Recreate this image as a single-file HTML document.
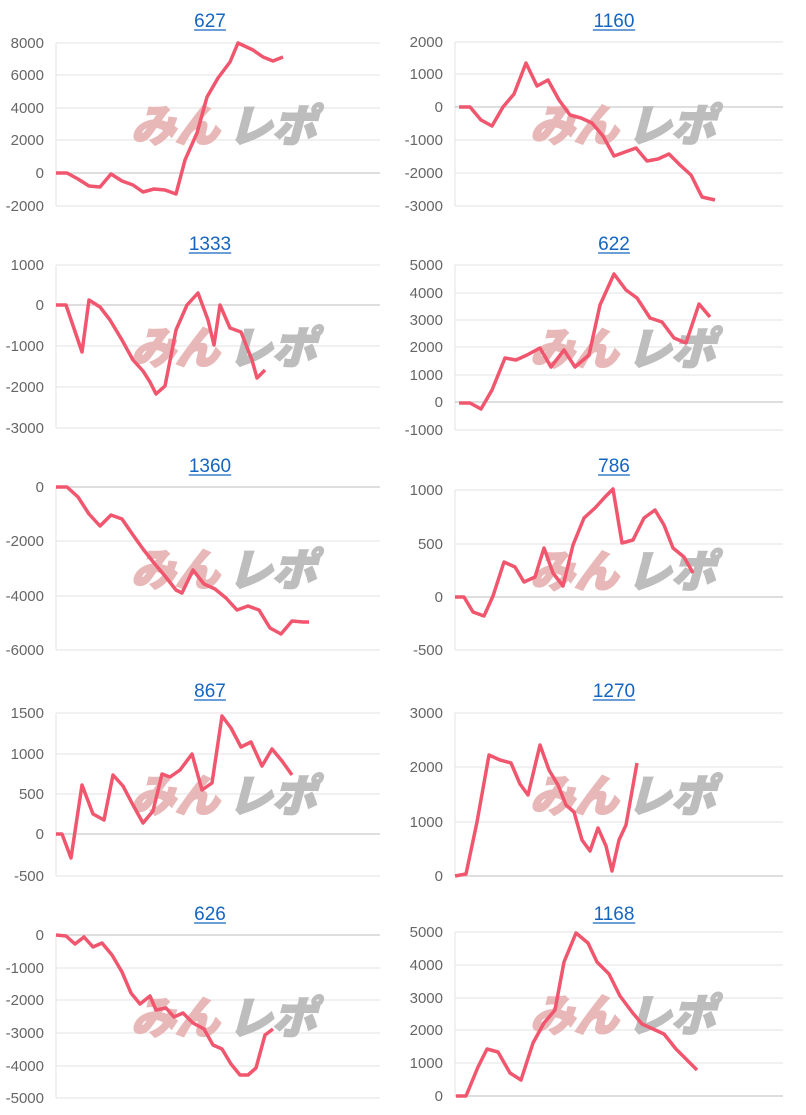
<!DOCTYPE html>
<html><head><meta charset="utf-8"><style>
body{margin:0;background:#fff;width:806px;height:1115px;overflow:hidden}
svg{display:block}
</style></head><body>
<svg id="s" width="806" height="1115" xmlns="http://www.w3.org/2000/svg" font-family="Liberation Sans, sans-serif"></svg>
<script>
const C=[
{t:"627",tx:210,ty:20,L:56,R:380,z:173,ticks:[["8000",43],["6000",75],["4000",108],["2000",140],["0",173],["-2000",206]],
p:[[56,173],[67,173],[78,179],[89,186],[100,187],[111,174],[122,181],[133,185],[143,192],[154,189],[165,190],[176,194],[185,160],[197,133],[207,97],[218,78],[230,62],[238,43],[253,50],[263,57],[273,61],[283,57]]},
{t:"1160",tx:614,ty:20,L:455,R:783,z:107,ticks:[["2000",42],["1000",74],["0",107],["-1000",140],["-2000",173],["-3000",206]],
p:[[459,107],[470,107],[481,120],[492,126],[503,107],[514,94],[526,63],[537,86],[548,80],[559,100],[570,115],[581,118],[592,123],[603,136],[614,156],[625,152],[636,148],[647,161],[658,159],[669,154],[680,165],[691,175],[702,197],[715,200]]},
{t:"1333",tx:210,ty:243,L:56,R:380,z:305,ticks:[["1000",265],["0",305],["-1000",346],["-2000",387],["-3000",428]],
p:[[56,305],[66,305],[82,352],[89,300],[100,307],[110,320],[122,340],[133,360],[143,371],[150,382],[156,394],[165,386],[176,330],[187,305],[198,293],[208,320],[214,345],[220,305],[230,328],[241,332],[252,360],[257,378],[265,370]]},
{t:"622",tx:614,ty:243,L:455,R:783,z:402,ticks:[["5000",265],["4000",293],["3000",320],["2000",347],["1000",375],["0",402],["-1000",430]],
p:[[459,403],[470,403],[481,409],[492,390],[505,358],[516,360],[527,355],[540,348],[551,367],[564,350],[575,367],[589,355],[600,305],[614,274],[626,290],[637,298],[650,318],[662,322],[674,338],[686,343],[699,304],[710,317]]},
{t:"1360",tx:210,ty:465,L:56,R:380,z:487,ticks:[["0",487],["-2000",541],["-4000",596],["-6000",650]],
p:[[56,487],[67,487],[78,497],[89,514],[100,526],[111,515],[122,519],[133,535],[143,549],[154,563],[165,576],[176,590],[182,593],[193,570],[204,584],[215,589],[226,598],[237,610],[248,606],[259,610],[270,628],[281,634],[292,621],[303,622],[309,622]]},
{t:"786",tx:614,ty:465,L:455,R:783,z:597,ticks:[["1000",490],["500",544],["0",597],["-500",650]],
p:[[455,597],[464,597],[473,612],[484,616],[493,596],[504,562],[515,567],[524,582],[535,577],[544,548],[553,573],[563,586],[573,545],[584,518],[595,508],[605,497],[613,489],[622,543],[633,540],[644,518],[655,510],[664,525],[673,548],[684,557],[693,573]]},
{t:"867",tx:210,ty:690,L:56,R:380,z:834,ticks:[["1500",713],["1000",754],["500",794],["0",834],["-500",876]],
p:[[56,834],[62,834],[71,858],[82,785],[93,814],[104,820],[113,775],[123,786],[133,805],[143,823],[153,811],[162,774],[170,777],[180,770],[192,754],[202,790],[212,783],[222,716],[231,728],[241,747],[251,742],[262,766],[272,749],[282,761],[292,775]]},
{t:"1270",tx:614,ty:690,L:455,R:783,z:876,ticks:[["3000",713],["2000",767],["1000",822],["0",876]],
p:[[455,876],[466,874],[477,822],[489,755],[500,760],[511,763],[520,784],[528,795],[540,745],[549,770],[558,785],[566,805],[574,812],[582,840],[590,851],[598,828],[606,846],[612,871],[619,840],[626,825],[637,763]]},
{t:"626",tx:210,ty:913,L:56,R:380,z:935,ticks:[["0",935],["-1000",968],["-2000",1000],["-3000",1033],["-4000",1066],["-5000",1098]],
p:[[56,935],[66,936],[75,944],[84,937],[93,947],[102,943],[112,955],[122,972],[131,993],[140,1004],[150,996],[156,1010],[166,1008],[174,1017],[183,1013],[193,1023],[204,1029],[213,1045],[222,1049],[231,1064],[240,1075],[248,1075],[256,1068],[265,1035],[273,1029]]},
{t:"1168",tx:614,ty:913,L:455,R:783,z:1096,ticks:[["5000",932],["4000",965],["3000",998],["2000",1030],["1000",1063],["0",1096]],
p:[[456,1096],[466,1096],[478,1067],[487,1049],[498,1052],[510,1073],[521,1080],[533,1043],[544,1023],[555,1010],[564,962],[576,933],[588,943],[597,962],[609,974],[620,996],[632,1012],[642,1024],[664,1034],[676,1049],[687,1060],[697,1070]]}
];
let h="";
for(const c of C){
  const top=c.ticks[0][1],bot=c.ticks[c.ticks.length-1][1];
  h+=`<line x1="${c.L}" y1="${top}" x2="${c.L}" y2="${bot}" stroke="#e3e3e3"/>`;
  for(const [lab,y] of c.ticks){
    h+=`<line x1="${c.L}" y1="${y}" x2="${c.R}" y2="${y}" stroke="${y==c.z?'#bdbdbd':'#e3e3e3'}"/>`;
    h+=`<text x="${c.L-12}" y="${y+5}" text-anchor="end" font-size="15" fill="#666">${lab}</text>`;
  }
  const wx=c.L+75, wy=(c.ticks[0][1]+c.ticks[c.ticks.length-1][1])/2+17;
  h+=`<g transform="translate(${wx},${wy}) skewX(-15)"><text x="0" y="0" font-size="44" font-weight="900" fill="#e8b8b8" stroke="#e8b8b8" stroke-width="2" font-family="Noto Sans CJK JP, sans-serif">みん</text>`;
  h+=`<text x="97" y="0" font-size="44" font-weight="900" fill="#bdbdbd" stroke="#bdbdbd" stroke-width="2" font-family="Noto Sans CJK JP, sans-serif">レポ</text></g>`;
  h+=`<polyline points="${c.p.map(q=>q.join(',')).join(' ')}" fill="none" stroke="#f0566e" stroke-width="3.5" stroke-linejoin="round"/>`;
  h+=`<text x="${c.tx}" y="${c.ty+7}" text-anchor="middle" font-size="19" fill="#1565c0">${c.t}</text>`;
  h+=`<line x1="${c.tx-c.t.length*5.3}" y1="${c.ty+10}" x2="${c.tx+c.t.length*5.3}" y2="${c.ty+10}" stroke="#1565c0" stroke-width="1.3"/>`;
}
document.getElementById("s").innerHTML=h;
</script>
</body></html>
